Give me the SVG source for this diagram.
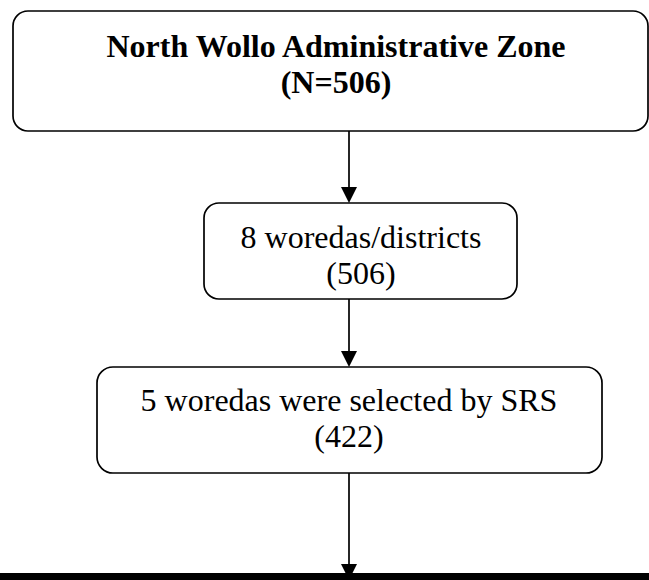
<svg xmlns="http://www.w3.org/2000/svg" width="649" height="580" viewBox="0 0 649 580">
  <style>
    .box { fill: #ffffff; stroke: #000000; stroke-width: 1.7; }
    .t { font-family: "Liberation Serif", "Times New Roman", serif; font-size: 32px; fill: #000000; text-anchor: middle; }
    .b { font-weight: bold; }
    .conn { stroke: #000000; stroke-width: 1.7; fill: none; }
    .head { fill: #000000; stroke: none; }
  </style>
  <rect x="0" y="0" width="649" height="580" fill="#ffffff"/>
  <g id="connectors">
    <line class="conn" x1="349" y1="131" x2="349" y2="190"/>
    <polygon class="head" points="341,187 357,187 349,203"/>
    <line class="conn" x1="349" y1="299" x2="349" y2="354"/>
    <polygon class="head" points="341,351 357,351 349,367"/>
    <line class="conn" x1="349" y1="468" x2="349" y2="568"/>
    <polygon class="head" points="341,564 357,564 349,580"/>
  </g>
  <g id="node-zone">
    <rect class="box" x="13" y="11" width="635" height="120" rx="15" ry="15"/>
    <text class="t b" x="336" y="57">North Wollo Administrative Zone</text>
    <text class="t b" x="336" y="93">(N=506)</text>
  </g>
  <g id="node-districts">
    <rect class="box" x="204" y="203" width="313" height="96" rx="15" ry="15"/>
    <text class="t" x="361" y="248">8 woredas/districts</text>
    <text class="t" x="361" y="284">(506)</text>
  </g>
  <g id="node-selected">
    <rect class="box" x="97" y="367" width="505" height="106" rx="16" ry="16"/>
    <text class="t" x="349" y="411">5 woredas were selected by SRS</text>
    <text class="t" x="349" y="447">(422)</text>
  </g>
  <rect id="bottom-bar" x="0" y="573" width="649" height="7" fill="#000000"/>
</svg>
